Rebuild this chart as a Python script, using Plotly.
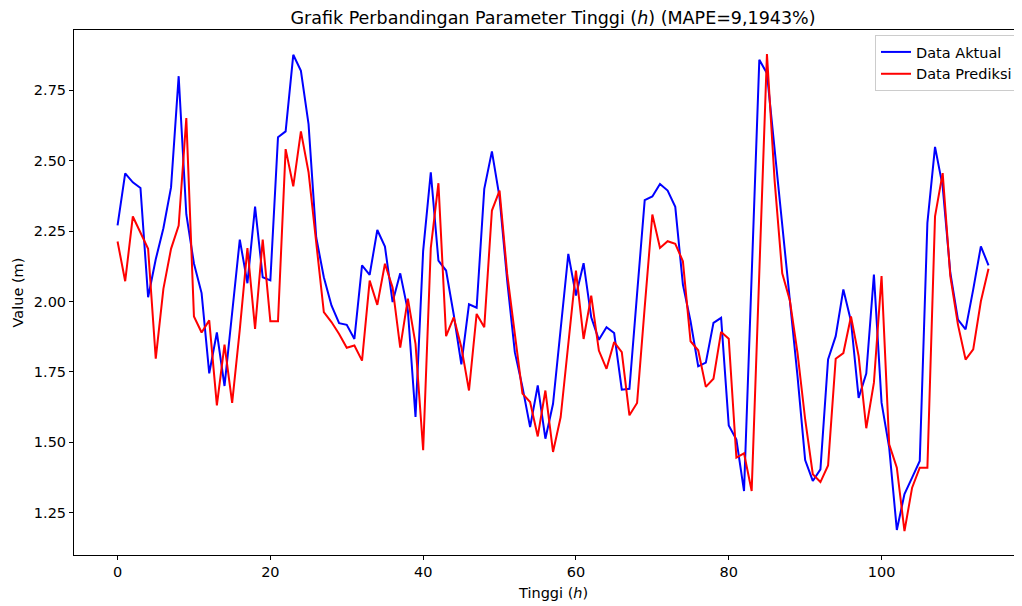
import plotly.graph_objects as go

x_index = list(range(115))

data_aktual = [
    2.27, 2.455, 2.423, 2.403, 2.015, 2.15, 2.26, 2.405, 2.80, 2.31,
    2.135, 2.03, 1.745, 1.89, 1.70, 1.957, 2.22, 2.065, 2.337, 2.086,
    2.075, 2.583, 2.604, 2.876, 2.819, 2.63, 2.228, 2.086, 1.986, 1.923,
    1.917, 1.867, 2.128, 2.095, 2.254, 2.195, 1.998, 2.10, 1.968, 1.59,
    2.18, 2.459, 2.145, 2.11, 1.954, 1.777, 1.99, 1.978, 2.40, 2.533,
    2.37, 2.074, 1.82, 1.696, 1.554, 1.702, 1.513, 1.637, 1.897, 2.169,
    2.021, 2.136, 1.944, 1.864, 1.909, 1.888, 1.687, 1.69, 2.027, 2.36,
    2.373, 2.417, 2.394, 2.336, 2.06, 1.93, 1.77, 1.783, 1.924, 1.942,
    1.56, 1.51, 1.327, 2.12, 2.858, 2.81, 2.54, 2.26, 1.99, 1.735,
    1.437, 1.363, 1.404, 1.794, 1.877, 2.043, 1.93, 1.658, 1.744, 2.096,
    1.641, 1.481, 1.189, 1.316, 1.375, 1.434, 2.279, 2.549, 2.409, 2.102,
    1.936, 1.901, 2.043, 2.196, 2.128,
]

data_prediksi = [
    2.213, 2.072, 2.302, 2.246, 2.187, 1.797, 2.045, 2.187, 2.27, 2.651,
    1.947, 1.89, 1.933, 1.631, 1.847, 1.64, 1.90, 2.19, 1.903, 2.22,
    1.93, 1.93, 2.541, 2.409, 2.604, 2.459, 2.205, 1.962, 1.927, 1.885,
    1.836, 1.844, 1.79, 2.074, 1.988, 2.134, 2.05, 1.836, 2.01, 1.85,
    1.472, 2.19, 2.42, 1.877, 1.944, 1.838, 1.684, 1.956, 1.909, 2.323,
    2.394, 2.098, 1.885, 1.673, 1.643, 1.521, 1.684, 1.466, 1.59, 1.862,
    2.11, 1.867, 2.021, 1.826, 1.761, 1.856, 1.82, 1.596, 1.64, 1.98,
    2.309, 2.19, 2.214, 2.205, 2.143, 1.859, 1.827, 1.697, 1.726, 1.892,
    1.868, 1.446, 1.461, 1.327, 2.10, 2.879, 2.43, 2.10, 2.004, 1.818,
    1.582, 1.387, 1.359, 1.418, 1.797, 1.817, 1.947, 1.806, 1.55, 1.712,
    2.09, 1.493, 1.41, 1.185, 1.339, 1.41, 1.41, 2.302, 2.456, 2.09,
    1.918, 1.794, 1.83, 2.001, 2.116,
]

x_ticks = [0, 20, 40, 60, 80, 100]
y_ticks = [1.25, 1.50, 1.75, 2.00, 2.25, 2.50, 2.75]
y_ticklabels = ["1.25", "1.50", "1.75", "2.00", "2.25", "2.50", "2.75"]

FONT = "DejaVu Sans"
FS = 14.5

fig = go.Figure()
fig.add_trace(go.Scatter(x=x_index, y=data_aktual, mode="lines", name="Data Aktual",
                         line=dict(color="#0000ff", width=2)))
fig.add_trace(go.Scatter(x=x_index, y=data_prediksi, mode="lines", name="Data Prediksi",
                         line=dict(color="#ff0000", width=2)))

# the page body has an 8px margin, so the figure is drawn 8px in from the window corner
OFF = 8
W, H = 1022 - OFF, 606 - OFF
ML, MR, MT, MB = 74 - OFF, 0, 22, 51
PW, PH = W - ML - MR, H - MT - MB

fig.update_layout(
    width=W, height=H,
    margin=dict(l=ML, r=MR, t=MT, b=MB, pad=0),
    paper_bgcolor="white", plot_bgcolor="white",
    font=dict(family=FONT, size=FS, color="#000000"),
    title=dict(text="Grafik Perbandingan Parameter Tinggi (<i>h</i>) (MAPE=9,1943%)",
               x=(553 - OFF) / W, xref="container", xanchor="center",
               y=1 - (18 - OFF) / H, yref="container", yanchor="middle",
               font=dict(family=FONT, size=17.5, color="#000000")),
    showlegend=True,
    legend=dict(x=(875 - OFF - ML) / PW, y=1 - (35 - OFF - MT) / PH,
                xanchor="left", yanchor="top",
                bgcolor="rgba(255,255,255,0.8)", bordercolor="#cccccc", borderwidth=1,
                font=dict(family=FONT, size=FS, color="#000000"),
                tracegroupgap=0),
)

fig.update_xaxes(
    range=[-5.7, -5.7 + PW / 7.64],
    tickvals=x_ticks, ticktext=[str(v) for v in x_ticks],
    showgrid=False, zeroline=False,
    showline=True, linecolor="#000000", linewidth=1, mirror=True,
    ticks="outside", ticklen=4, tickcolor="#000000", tickwidth=1,
    tickfont=dict(family=FONT, size=FS, color="#000000"),
)
fig.update_yaxes(
    range=[1.100, 2.964],
    tickvals=y_ticks, ticktext=y_ticklabels,
    showgrid=False, zeroline=False,
    showline=True, linecolor="#000000", linewidth=1, mirror=False,
    ticks="outside", ticklen=4, tickcolor="#000000", tickwidth=1,
    tickfont=dict(family=FONT, size=FS, color="#000000"),
)

fig.add_annotation(text="Tinggi (<i>h</i>)", xref="paper", yref="paper",
                   x=(553 - OFF - ML) / PW, y=-(593 - OFF - (H - MB)) / PH,
                   xanchor="center", yanchor="middle", showarrow=False,
                   font=dict(family=FONT, size=FS, color="#000000"))
fig.add_annotation(text="Value (m)", xref="paper", yref="paper",
                   x=-(ML - (17 - OFF)) / PW, y=0.5, textangle=-90,
                   xanchor="center", yanchor="middle", showarrow=False,
                   font=dict(family=FONT, size=FS, color="#000000"))

fig.write_html("out.html")
